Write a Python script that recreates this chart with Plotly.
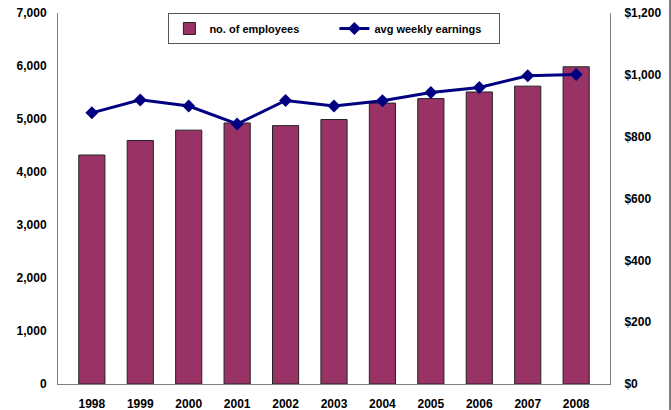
import plotly.graph_objects as go

years = ["1998", "1999", "2000", "2001", "2002", "2003", "2004", "2005", "2006", "2007", "2008"]
employees = [4320, 4595, 4790, 4925, 4875, 4990, 5300, 5385, 5510, 5620, 5985]
earnings = [877, 919, 899, 841, 917, 899, 916, 943, 959, 997, 1001]

font_family = "Liberation Sans, Arial, sans-serif"
axis_font = dict(family=font_family, size=12, color="black", weight="bold")

fig = go.Figure()
fig.add_trace(go.Bar(
    x=years, y=employees, name="no. of employees",
    marker=dict(color="#993366", line=dict(color="#222222", width=1)),
))
fig.add_trace(go.Scatter(
    x=years, y=earnings, name="avg weekly earnings", yaxis="y2",
    mode="lines+markers",
    line=dict(color="#000080", width=3),
    marker=dict(symbol="diamond", size=10, color="#000080"),
))

fig.update_layout(
    width=671, height=410,
    margin=dict(l=58, r=61, t=13, b=26),
    paper_bgcolor="white", plot_bgcolor="white",
    bargap=0.46,
    showlegend=True,
    legend=dict(
        orientation="h", x=0.2, xanchor="left", y=1.0, yanchor="top",
        bordercolor="#555555", borderwidth=1, bgcolor="white",
        font=dict(family=font_family, size=11, color="black", weight="bold"),
        itemwidth=30, tracegroupgap=0, entrywidth=120,
    ),
    xaxis=dict(
        showline=True, linecolor="#808080", linewidth=1, automargin=False,
        showgrid=False, ticks="", tickfont=axis_font, ticklabelstandoff=9,
    ),
    yaxis=dict(
        range=[0, 7000], dtick=1000, tickformat=",", automargin=False,
        showline=True, linecolor="#808080", linewidth=1,
        showgrid=False, zeroline=False, ticks="", tickfont=axis_font,
        ticklabelstandoff=8,
    ),
    yaxis2=dict(
        range=[0, 1200], dtick=200, tickformat=",", tickprefix="$",
        overlaying="y", side="right", automargin=False,
        showline=True, linecolor="#808080", linewidth=1,
        showgrid=False, zeroline=False, ticks="", tickfont=axis_font,
        ticklabelstandoff=11,
    ),
)

# thin frame edge visible at the right side of the original chart
fig.add_shape(
    type="line", xref="paper", yref="paper",
    x0=1.1087, x1=1.1087, y0=-0.07, y1=1.04,
    line=dict(color="black", width=1),
)

# page body has a default 8px margin; drop it so the figure fills the window
fig.write_html(
    "out.html",
    config={"displayModeBar": False},
    post_script="document.body.style.margin='0px';",
)
